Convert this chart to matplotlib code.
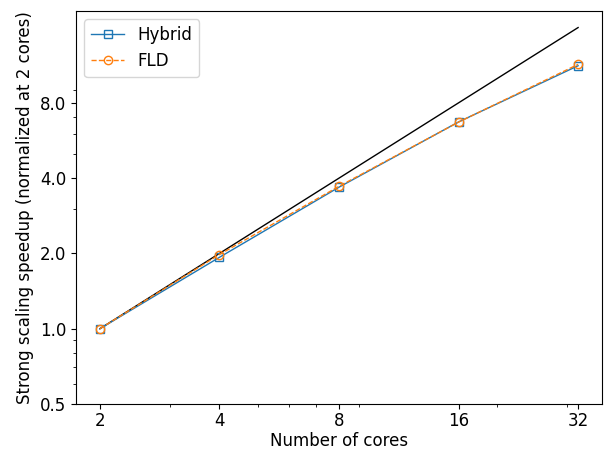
import matplotlib
matplotlib.use("Agg")
import matplotlib.pyplot as plt
from matplotlib.ticker import FixedLocator, FormatStrFormatter, NullFormatter

cores = [2, 4, 8, 16, 32]
hybrid = [1.0, 1.93, 3.68, 6.71, 11.26]
fld = [1.0, 1.98, 3.71, 6.70, 11.40]
ideal = [1, 2, 4, 8, 16]
yticks = [0.5, 1.0, 2.0, 4.0, 8.0]

plt.rcParams['font.size'] = 12
fig = plt.figure(figsize=(6.12, 4.53), dpi=100)
ax = fig.add_axes([76/612, 1-404/453, (602-76)/612, (404-11)/453])
ax.plot(cores, ideal, color='black', lw=1)
ax.plot(cores, hybrid, color='C0', marker='s', fillstyle='none', lw=1, label='Hybrid')
ax.plot(cores, fld, color='C1', marker='o', fillstyle='none', lw=1, ls='--', label='FLD')
ax.set_xscale('log')
ax.set_yscale('log')
ax.set_xlim(2**0.8, 2**5.2)
ax.set_ylim(0.5, 2**4.22)
ax.xaxis.set_major_locator(FixedLocator(cores))
ax.xaxis.set_major_formatter(FormatStrFormatter('%d'))
ax.xaxis.set_minor_formatter(NullFormatter())
ax.yaxis.set_major_locator(FixedLocator(yticks))
ax.yaxis.set_major_formatter(FormatStrFormatter('%.1f'))
ax.yaxis.set_minor_formatter(NullFormatter())
ax.tick_params(axis='x', which='major', pad=2.5)
ax.set_xlabel('Number of cores', labelpad=1.5)
ax.set_ylabel('Strong scaling speedup (normalized at 2 cores)')
ax.legend(loc='upper left')
fig.savefig('out.png', dpi=100)
